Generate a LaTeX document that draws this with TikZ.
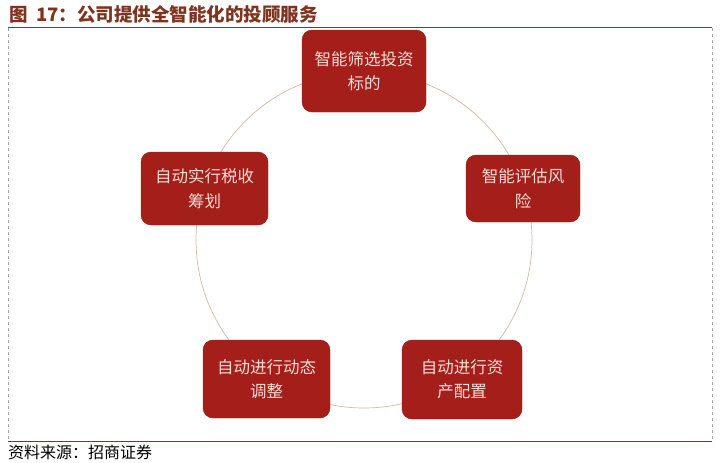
\documentclass[tikz,border=0pt]{standalone}
\usepackage{fontspec}
\newfontfamily\cjk{Noto Sans CJK SC}
\definecolor{boxred}{HTML}{A51F1A}
\definecolor{boxtext}{HTML}{F6DCD6}
\definecolor{titlered}{HTML}{80331E}
\definecolor{ringcol}{HTML}{D8B8A2}
\definecolor{rulecol}{HTML}{7A3535}
\tikzset{
  stepbox/.style={rectangle, rounded corners=10pt, fill=boxred, draw=boxred!85!black, line width=0.4pt,
    text=boxtext, align=center, inner sep=0pt,
    font=\cjk\fontsize{16.5}{24.5}\selectfont},
  rulel/.style={draw=rulecol, line width=1.2pt},
  dashl/.style={draw=gray!70, dashed, line width=0.5pt}
}
\begin{document}
\begin{tikzpicture}[x=1pt,y=-1pt]
\useasboundingbox (0,0) rectangle (720,463);
% title
\node[anchor=base west, inner sep=0pt, text=titlered, font=\cjk\bfseries\fontsize{18.5}{20}\selectfont] (title) at (9,21) {图\hspace{0.45em}17：公司提供全智能化的投顾服务};
% frame
\coordinate (tl) at (8,27.5);
\coordinate (tr) at (712,27.5);
\coordinate (bl) at (8,441.5);
\coordinate (br) at (712,441.5);
\draw[dashl] (tl) -- (bl);
\draw[dashl] (tr) -- (br);
\draw[rulel] (tl) -- (tr);
\draw[rulel] (bl) -- (br);
% ring
\coordinate (c) at (364,240);
\draw[ringcol, line width=0.7pt] (c) circle[radius=168];
% boxes
\node[stepbox, minimum width=124pt, minimum height=82pt] (b1) at (364,71) {智能筛选投资\\标的};
\node[stepbox, minimum width=114pt, minimum height=67pt] (b2) at (523,188.5) {智能评估风\\险};
\node[stepbox, minimum width=120pt, minimum height=79pt] (b3) at (462,379.5) {自动进行资\\产配置};
\node[stepbox, minimum width=127pt, minimum height=78pt] (b4) at (266.5,379) {自动进行动态\\调整};
\node[stepbox, minimum width=127pt, minimum height=73pt] (b5) at (204.5,188.5) {自动实行税收\\筹划};
% source
\node[anchor=base west, inner sep=0pt, font=\cjk\fontsize{16}{18}\selectfont] (src) at (8,458.5) {资料来源：招商证券};
\end{tikzpicture}
\end{document}
